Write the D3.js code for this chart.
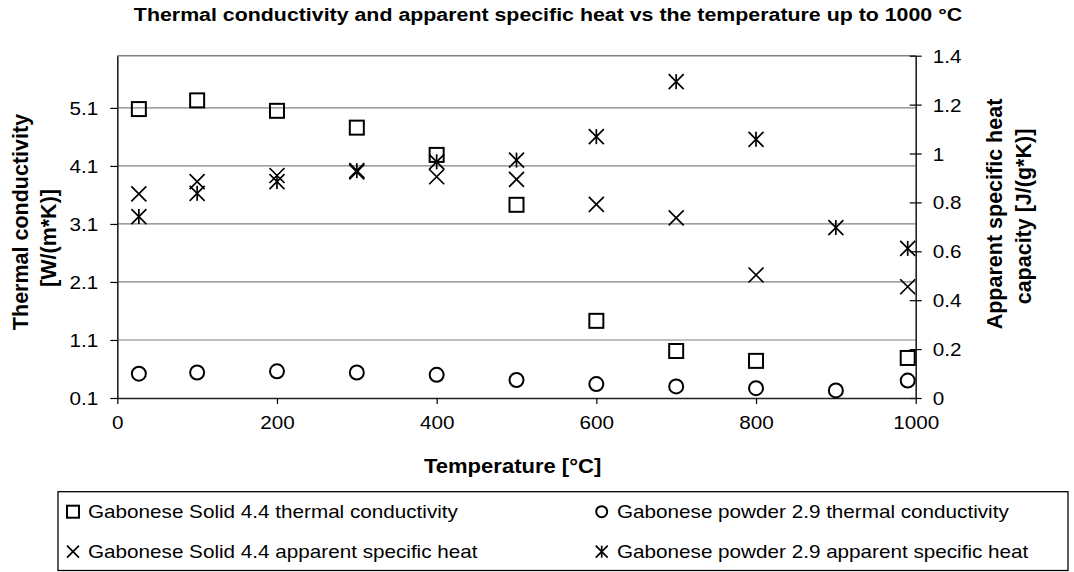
<!DOCTYPE html>
<html>
<head>
<meta charset="utf-8">
<script src="https://cdn.jsdelivr.net/npm/d3@7"></script>
<style>
  body { margin: 0; background: #fff; }
  svg { display: block; }
</style>
</head>
<body>
<div id="chart"></div>
<script>
// data
const solidTemps = [27, 100, 200, 300, 400, 500, 600, 700, 800, 990];
const powderTemps = [27, 100, 200, 300, 400, 500, 600, 700, 800, 900, 990];
const solidConductivity = [5.08, 5.23, 5.05, 4.76, 4.29, 3.43, 1.43, 0.91, 0.74, 0.79];
const powderConductivity = [0.52, 0.54, 0.56, 0.54, 0.5, 0.41, 0.34, 0.3, 0.27, 0.23, 0.4];
const solidHeat = [0.835, 0.885, 0.91, 0.925, 0.905, 0.894, 0.792, 0.737, 0.503, 0.455];
const powderHeat = [0.742, 0.837, 0.885, 0.93, 0.966, 0.973, 1.069, 1.294, 1.058, 0.697, 0.612];

const xTicks = [0, 200, 400, 600, 800, 1000];
const leftTicks = [0.1, 1.1, 2.1, 3.1, 4.1, 5.1];
const rightTicks = [0, 0.2, 0.4, 0.6, 0.8, 1, 1.2, 1.4];

const legendLabels = [
  'Gabonese Solid 4.4 thermal conductivity',
  'Gabonese powder 2.9 thermal conductivity',
  'Gabonese Solid 4.4 apparent specific heat',
  'Gabonese powder 2.9 apparent specific heat'
];

const width = 1074, height = 572;
const plot = { left: 117.3, right: 915.7, top: 55.7, bottom: 398 };
const FONT = "'Liberation Sans', Arial, Helvetica, sans-serif";
const SX = 1.13; // the reference text is a bit wider than Arial

const svg = d3.select('#chart').append('svg')
  .attr('width', width)
  .attr('height', height)
  .style('font-family', FONT);

const x = d3.scaleLinear().domain([0, 1000]).range([plot.left, plot.right]);
const yL = d3.scaleLinear().domain([0.1, 6.0]).range([plot.bottom, plot.top]);
const yR = d3.scaleLinear().domain([0, 1.4]).range([plot.bottom, plot.top]);

// wide text helper
function wideText(g, tx, ty, str, size, weight, anchor) {
  return g.append('text')
    .attr('transform', 'translate(' + tx + ',' + ty + ') scale(' + SX + ',1)')
    .attr('text-anchor', anchor || 'start')
    .style('font-size', size + 'px')
    .style('font-weight', weight || 'normal')
    .text(str);
}

// title
wideText(svg, 548, 21, 'Thermal conductivity and apparent specific heat vs the temperature up to 1000 °C', 18.9, 'bold', 'middle');

// gridlines
svg.append('g')
  .selectAll('line')
  .data(leftTicks.slice(1))
  .join('line')
  .attr('x1', plot.left).attr('x2', plot.right)
  .attr('y1', d => yL(d)).attr('y2', d => yL(d))
  .attr('stroke', '#808080').attr('stroke-width', 1.2);

// plot area top border
svg.append('line')
  .attr('x1', plot.left).attr('x2', plot.right)
  .attr('y1', plot.top).attr('y2', plot.top)
  .attr('stroke', '#808080').attr('stroke-width', 1.5);

// axes
const fmtL = d3.format('.1f');
const fmtR = d => String(+d.toFixed(1));

const axL = svg.append('g')
  .attr('transform', 'translate(' + plot.left + ',0)')
  .call(d3.axisLeft(yL).tickValues(leftTicks).tickFormat(fmtL).tickSize(7).tickSizeOuter(0));
axL.selectAll('text')
  .attr('x', null).attr('dy', null)
  .attr('transform', 'translate(-19,6.5) scale(' + SX + ',1)');

const axR = svg.append('g')
  .attr('transform', 'translate(' + plot.right + ',0)')
  .call(d3.axisRight(yR).tickValues(rightTicks).tickFormat(fmtR).tickSize(6).tickSizeOuter(0));
axR.selectAll('.tick line').attr('x1', -6);
axR.selectAll('text')
  .attr('x', null).attr('dy', null)
  .attr('transform', 'translate(17,6.5) scale(' + SX + ',1)');

const axX = svg.append('g')
  .attr('transform', 'translate(0,' + plot.bottom + ')')
  .call(d3.axisBottom(x).tickValues(xTicks).tickFormat(d3.format('d')).tickSize(6).tickSizeOuter(0));
axX.selectAll('text')
  .attr('y', null).attr('dy', null)
  .attr('transform', 'translate(0,30.5) scale(' + SX + ',1)');

[axL, axR, axX].forEach(function (a) {
  a.selectAll('text')
    .style('font-size', '18.3px')
    .style('font-family', FONT)
    .attr('fill', '#000');
  a.selectAll('line').attr('stroke', '#000').attr('stroke-width', 1.2);
  a.select('.domain').attr('stroke', '#222').attr('stroke-width', 1.6);
});

// axis titles
wideText(svg, 512.6, 473, 'Temperature [°C]', 19.5, 'bold', 'middle');

function rotTitle(tx, ty, str) {
  svg.append('text')
    .attr('transform', 'translate(' + tx + ',' + ty + ') rotate(-90)')
    .attr('text-anchor', 'middle')
    .style('font-size', '21.5px')
    .style('font-weight', 'bold')
    .text(str);
}
rotTitle(27.5, 222, 'Thermal conductivity');
rotTitle(56, 238, '[W/(m*K)]');
rotTitle(1002, 214, 'Apparent specific heat');
rotTitle(1031, 216.5, 'capacity [J/(g*K)]');

// marker drawers
function drawSquare(g, cx, cy, s) {
  g.append('rect')
    .attr('x', cx - s / 2).attr('y', cy - s / 2)
    .attr('width', s).attr('height', s)
    .attr('fill', 'none').attr('stroke', '#000').attr('stroke-width', 2);
}
function drawCircle(g, cx, cy, s) {
  g.append('circle')
    .attr('cx', cx).attr('cy', cy).attr('r', s / 2)
    .attr('fill', 'none').attr('stroke', '#000').attr('stroke-width', 2);
}
function drawCross(g, cx, cy, s) {
  const h = s / 2;
  g.append('path')
    .attr('d', 'M' + (cx - h) + ',' + (cy - h) + 'L' + (cx + h) + ',' + (cy + h) +
      'M' + (cx - h) + ',' + (cy + h) + 'L' + (cx + h) + ',' + (cy - h))
    .attr('fill', 'none').attr('stroke', '#000').attr('stroke-width', 1.7);
}
function drawStar(g, cx, cy, s) {
  const h = s / 2;
  drawCross(g, cx, cy, s);
  g.append('path')
    .attr('d', 'M' + cx + ',' + (cy - h) + 'L' + cx + ',' + (cy + h))
    .attr('fill', 'none').attr('stroke', '#000').attr('stroke-width', 1.7);
}

const series = [
  { temps: solidTemps, values: solidConductivity, y: yL, draw: drawSquare, size: 14 },
  { temps: powderTemps, values: powderConductivity, y: yL, draw: drawCircle, size: 14 },
  { temps: solidTemps, values: solidHeat, y: yR, draw: drawCross, size: 15 },
  { temps: powderTemps, values: powderHeat, y: yR, draw: drawStar, size: 15 }
];

const marks = svg.append('g');
series.forEach(function (s) {
  s.temps.forEach(function (t, i) {
    s.draw(marks, x(t), s.y(s.values[i]), s.size);
  });
});

// legend
const legend = svg.append('g');
legend.append('rect')
  .attr('x', 58).attr('y', 491.7)
  .attr('width', 1068 - 58).attr('height', 570.5 - 491.7)
  .attr('fill', 'none').attr('stroke', '#000').attr('stroke-width', 1.3);

const legendPos = [
  { mx: 73, tx: 88, y: 511.7 },
  { mx: 601.7, tx: 617, y: 511.7 },
  { mx: 73, tx: 88, y: 551.7 },
  { mx: 601.7, tx: 617, y: 551.7 }
];
const legendSizes = [12, 11, 12, 12];
legendLabels.forEach(function (lab, i) {
  const p = legendPos[i];
  series[i].draw(legend, p.mx, p.y, legendSizes[i]);
  wideText(legend, p.tx, p.y + 6.5, lab, 18.3, 'normal', 'start');
});
</script>
</body>
</html>
